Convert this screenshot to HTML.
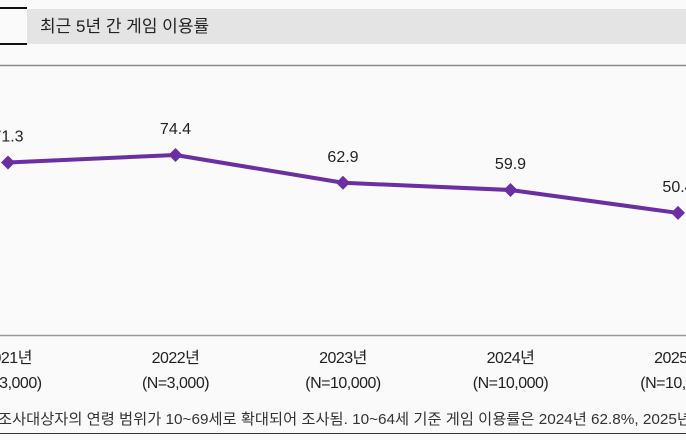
<!DOCTYPE html>
<html><head><meta charset="utf-8"><style>
body{margin:0;width:686px;height:440px;background:#fff;overflow:hidden;font-family:"Liberation Sans","Noto Sans CJK KR",sans-serif}
svg{display:block}
</style></head><body>
<svg width="686" height="440" id="c">
<rect x="0" y="0" width="686" height="440" fill="#fafafa"/>
<rect x="27" y="9" width="659" height="35" fill="#e4e4e4"/>
<path d="M0 8 H27 M0 44 H27" stroke="#111" stroke-width="2"/>
<text x="40" y="32" font-size="17" fill="#222">최근 5년 간 게임 이용률</text>
<line x1="0" y1="65.5" x2="686" y2="65.5" stroke="#888" stroke-width="1.5"/>
<line x1="0" y1="335.5" x2="686" y2="335.5" stroke="#999" stroke-width="1.5"/>
<line x1="0" y1="433.5" x2="686" y2="433.5" stroke="#333" stroke-width="1"/>
<text x="-2" y="424" font-size="15" fill="#333" textLength="693" lengthAdjust="spacingAndGlyphs">조사대상자의 연령 범위가 10~69세로 확대되어 조사됨. 10~64세 기준 게임 이용률은 2024년 62.8%, 2025년</text>
<g id="plot"></g>
</svg>
<script>
const years=["2021년","2022년","2023년","2024년","2025년"];
const samples=["(N=3,000)","(N=3,000)","(N=10,000)","(N=10,000)","(N=10,000)"];
const rates=[71.3,74.4,62.9,59.9,50.4];
const labels=["71.3","74.4","62.9","59.9","50.4"];
const g=document.getElementById('plot');
const NS="http://www.w3.org/2000/svg";
function xs(i){return 8+i*167.5;}
function ys(v){return 155+(74.4-v)*2.414;}
function mk(t,a){const e=document.createElementNS(NS,t);for(const k in a)e.setAttribute(k,a[k]);g.appendChild(e);return e;}
const line=mk('polyline',{points:rates.map((v,i)=>xs(i)+','+ys(v)).join(' '),fill:'none',stroke:'#6b2fa3','stroke-width':4,'stroke-linejoin':'round'});


rates.forEach((v,i)=>{
 const x=xs(i),y=ys(v);
 const p=mk('polygon',{points:`${x},${y-7} ${x+7},${y} ${x},${y+7} ${x-7},${y}`,fill:'#6b2fa3'});
 
 
 const t=mk('text',{x:x,y:y-21,'font-size':16,'text-anchor':'middle',fill:'#222'});t.textContent=labels[i];
 
 
 const a=mk('text',{x:x,y:363,'font-size':16,'text-anchor':'middle',fill:'#222','letter-spacing':'-0.5'});a.textContent=years[i];
 
 
 const b=mk('text',{x:x,y:388,'font-size':16,'text-anchor':'middle',fill:'#222','letter-spacing':'-0.5'});b.textContent=samples[i];
 
 
});
</script>
</body></html>
